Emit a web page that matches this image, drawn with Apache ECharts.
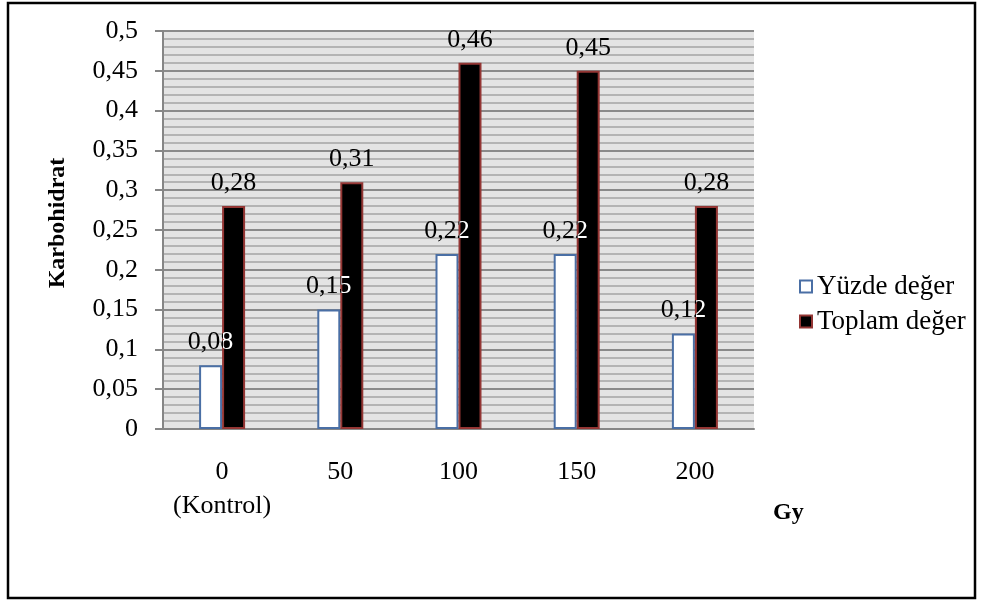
<!DOCTYPE html>
<html>
<head>
<meta charset="utf-8">
<script src="https://cdn.jsdelivr.net/npm/echarts@6/dist/echarts.min.js"></script>
<style>
  html, body { margin: 0; padding: 0; background: #fff; }
  #chart { width: 981px; height: 601px; }
</style>
</head>
<body>
<div id="chart"></div>
<script>
// Irradiation dose groups (Gy) and carbohydrate values
const categories = ['0\n(Kontrol)', '50', '100', '150', '200'];
const yuzdeDeger = [0.08, 0.15, 0.22, 0.22, 0.12];
const toplamDeger = [0.28, 0.31, 0.46, 0.45, 0.28];
const seriesNames = ['Yüzde değer', 'Toplam değer'];
const yAxisTitle = 'Karbohidrat';
const xAxisTitle = 'Gy';

const FONT = '"Liberation Serif", "Times New Roman", serif';
const BAR_W = 23;
const LABEL_DIST = 10;
const LABEL_SIZE = 26;

// decimal comma, as in the Turkish locale
const fmt = v => String(parseFloat(Number(v).toFixed(2))).replace('.', ',');

const chart = echarts.init(document.getElementById('chart'), null, { renderer: 'canvas' });

const option = {
  animation: false,
  backgroundColor: '#ffffff',
  textStyle: { fontFamily: FONT, color: '#000' },
  grid: {
    show: true,
    left: 163, top: 31, width: 591, height: 398,
    backgroundColor: '#e4e4e4',
    borderWidth: 0,
    containLabel: false
  },
  legend: {
    orient: 'vertical',
    left: 794, top: 268,
    itemWidth: 12, itemHeight: 12, itemGap: 8,
    icon: 'rect',
    data: seriesNames,
    textStyle: { fontFamily: FONT, fontSize: 27, color: '#000' }
  },
  xAxis: {
    type: 'category',
    data: categories,
    axisLine: { show: true, lineStyle: { color: '#868686', width: 2 } },
    axisTick: { show: false },
    axisLabel: { interval: 0, margin: 26, fontSize: 26, lineHeight: 34, color: '#000', fontFamily: FONT },
    splitLine: { show: false }
  },
  yAxis: {
    type: 'value',
    min: 0, max: 0.5, interval: 0.05,
    name: yAxisTitle,
    nameLocation: 'middle',
    nameRotate: 90,
    nameGap: 93,
    nameTextStyle: { fontFamily: FONT, fontSize: 24, fontWeight: 'bold', color: '#000', padding: [0, 0, 0, 14] },
    axisLine: { show: true, lineStyle: { color: '#868686', width: 2 } },
    axisTick: { show: true, inside: false, length: 8, lineStyle: { color: '#868686', width: 2 } },
    axisLabel: { margin: 25, fontSize: 26, color: '#000', fontFamily: FONT, formatter: v => fmt(v) },
    splitLine: { show: true, lineStyle: { color: '#8a8a8a', width: 2 } },
    minorTick: { show: false, splitNumber: 5 },
    minorSplitLine: { show: true, lineStyle: { color: '#b4b4b4', width: 2 } }
  },
  series: [
    {
      name: seriesNames[0],
      type: 'bar',
      data: yuzdeDeger,
      barWidth: BAR_W,
      barGap: 0,
      itemStyle: { color: '#ffffff', borderColor: '#4a6fa5', borderWidth: 2 },
      label: {
        show: true, position: 'top', distance: LABEL_DIST,
        fontFamily: FONT, fontSize: LABEL_SIZE, color: '#000',
        formatter: p => fmt(p.value)
      },
      z: 2
    },
    {
      name: seriesNames[1],
      type: 'bar',
      data: toplamDeger,
      barWidth: BAR_W,
      barGap: 0,
      itemStyle: { color: '#000000', borderColor: '#943634', borderWidth: 2 },
      label: {
        show: true, position: 'top', distance: LABEL_DIST,
        fontFamily: FONT, fontSize: LABEL_SIZE, color: '#000',
        formatter: p => fmt(p.value)
      },
      z: 2
    },
    {
      // white copy of the percentage labels, visible only where they cross the dark bars
      type: 'custom',
      coordinateSystem: 'cartesian2d',
      silent: true,
      z: 6,
      data: yuzdeDeger.map((v, i) => [i, v, toplamDeger[i]]),
      encode: { x: 0, y: 1 },
      renderItem: function (params, api) {
        const i = api.value(0);
        const base = api.coord([i, 0]);
        const top = api.coord([i, api.value(1)]);
        const darkTop = api.coord([i, api.value(2)]);
        const textX = base[0] - BAR_W / 2;
        return {
          type: 'group',
          clipPath: {
            type: 'rect',
            shape: { x: base[0] + 1, y: darkTop[1] + 1, width: BAR_W - 2, height: base[1] - darkTop[1] - 1 }
          },
          children: [{
            type: 'text',
            style: {
              x: textX,
              y: top[1] - LABEL_DIST,
              text: fmt(api.value(1)),
              fill: '#ffffff',
              font: LABEL_SIZE + 'px ' + FONT,
              align: 'center',
              verticalAlign: 'bottom'
            }
          }]
        };
      }
    }
  ],
  graphic: [
    {
      // x-axis title, set below the plot beside the last category
      type: 'text',
      silent: true,
      left: 773, top: 501,
      style: { text: xAxisTitle, font: 'bold 24px ' + FONT, fill: '#000' }
    },
    {
      type: 'rect',
      silent: true,
      shape: { x: 8, y: 3, width: 967, height: 595 },
      style: { fill: 'none', stroke: '#000', lineWidth: 2.5 }
    }
  ]
};

chart.setOption(option);
</script>
</body>
</html>
